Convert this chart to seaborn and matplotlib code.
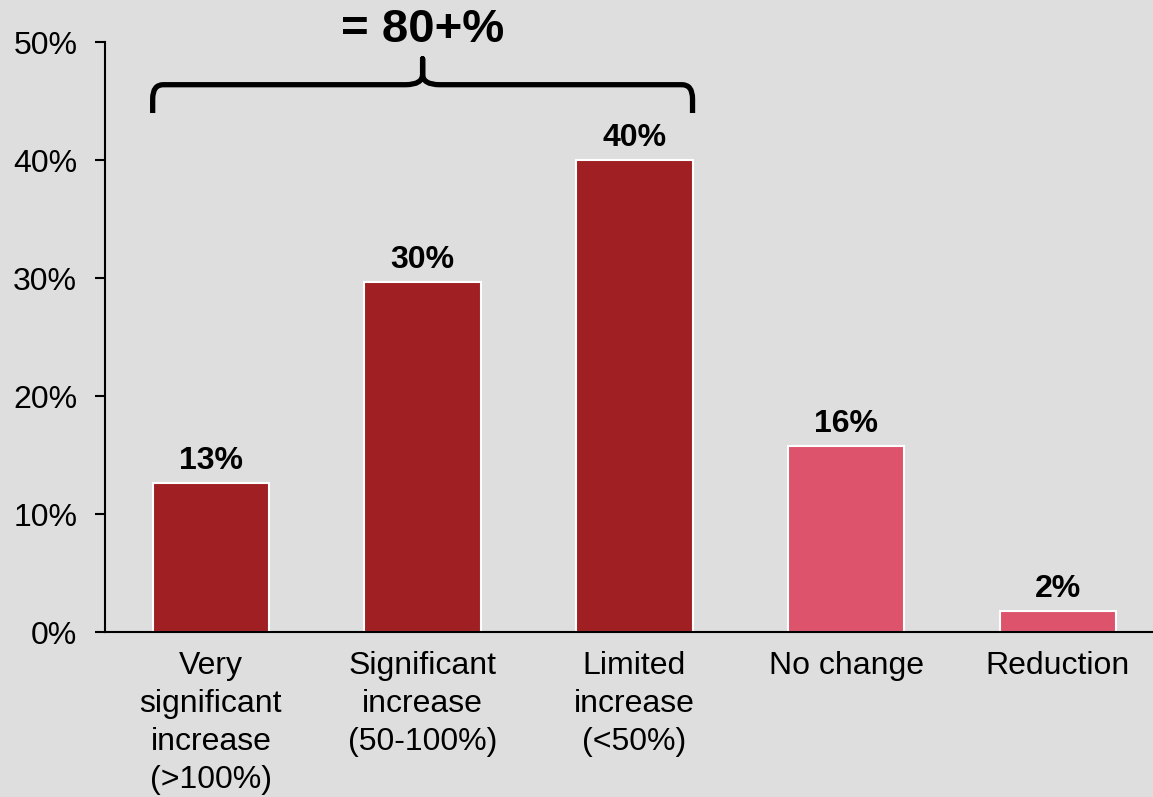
import matplotlib
matplotlib.use("Agg")
import matplotlib.pyplot as plt
from matplotlib.path import Path
from matplotlib.patches import PathPatch
import seaborn as sns
import pandas as pd

categories = ["Very\nsignificant\nincrease\n(>100%)", "Significant\nincrease\n(50-100%)",
              "Limited\nincrease\n(<50%)", "No change", "Reduction"]
values = [12.6, 29.7, 40.0, 15.8, 1.8]
labels = ["13%", "30%", "40%", "16%", "2%"]
groups = ["increase", "increase", "increase", "flat", "flat"]
yticks = [0, 10, 20, 30, 40, 50]
ytick_labels = ["0%", "10%", "20%", "30%", "40%", "50%"]
brace_text = "= 80+%"

BG = "#DEDEDE"
sns.set_theme(style="white")
plt.rcParams["font.family"] = ["Liberation Sans", "DejaVu Sans"]

fig = plt.figure(figsize=(11.53, 7.97), dpi=100, facecolor=BG)
ax = fig.add_axes([0.0911, 0.207, 0.9089, 0.740])
ax.set_facecolor(BG)

df = pd.DataFrame({"cat": categories, "val": values, "grp": groups})
sns.barplot(data=df, x="cat", y="val", hue="grp", dodge=False, width=0.55,
            palette={"increase": "#A01F22", "flat": "#DC536B"}, saturation=1,
            edgecolor="white", linewidth=1.5, legend=False, ax=ax)

for i, (v, lab) in enumerate(zip(values, labels)):
    ax.annotate(lab, (i, v), xytext=(0, 5), textcoords="offset points",
                ha="center", va="bottom", fontsize=23, fontweight="bold", color="black")

ax.set_xlim(-0.5, 4.45)
ax.set_ylim(0, 50)
ax.set_yticks(yticks)
ax.set_yticklabels(ytick_labels, fontsize=23, color="black")
ax.tick_params(axis="y", length=7, width=1.5, color="black", pad=13, left=True)
ax.tick_params(axis="x", length=0, pad=14, labelsize=23, labelcolor="black")
for t in ax.get_xticklabels():
    t.set_linespacing(1.34)
ax.set_xlabel("")
ax.set_ylabel("")
for s in ["top", "right"]:
    ax.spines[s].set_visible(False)
for s in ["left", "bottom"]:
    ax.spines[s].set_color("black")
    ax.spines[s].set_linewidth(1.5)

# Brace over first three bars
x0, x1 = -0.275, 2.275
xm = (x0 + x1) / 2
yl, yh, yp = 44.0, 46.4, 48.6
rx, ry = 0.05, 1.2
d = 0.08
verts = [
    (x0, yl), (x0, yh - ry), (x0, yh), (x0 + rx, yh),
    (xm - d, yh), (xm, yh), (xm, yh + 0.9), (xm, yp),
    (xm, yh + 0.9), (xm, yh), (xm + d, yh),
    (x1 - rx, yh), (x1, yh), (x1, yh - ry), (x1, yl),
]
codes = [Path.MOVETO, Path.LINETO, Path.CURVE3, Path.CURVE3,
         Path.LINETO, Path.CURVE3, Path.CURVE3, Path.LINETO,
         Path.LINETO, Path.CURVE3, Path.CURVE3,
         Path.LINETO, Path.CURVE3, Path.CURVE3, Path.LINETO]
ax.add_patch(PathPatch(Path(verts, codes), fill=False, lw=3.8, color="black",
                       capstyle="butt", joinstyle="round", clip_on=False))
ax.text(xm, 51.0, brace_text, ha="center", va="center", fontsize=34,
        fontweight="bold", color="black", clip_on=False)

fig.savefig("out.png", dpi=100, facecolor=BG)
